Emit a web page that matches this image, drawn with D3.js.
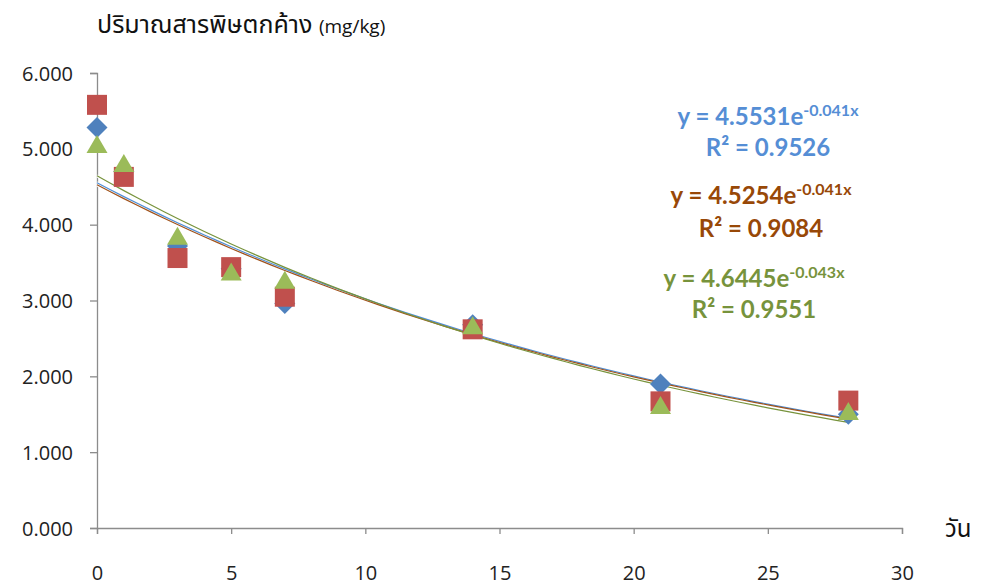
<!DOCTYPE html>
<html><head><meta charset="utf-8">
<script src="https://cdn.jsdelivr.net/npm/d3@7"></script>
<style>
body{margin:0;background:#fff;}
svg{display:block;}
</style></head>
<body>
<svg id="c" width="983" height="586"></svg>
<script>
const days = [0, 1, 3, 5, 7, 14, 21, 28];
const seriesBlue = [5.28, 4.70, 3.72, 3.42, 2.96, 2.68, 1.90, 1.50];
const seriesRed = [5.58, 4.63, 3.56, 3.44, 3.05, 2.62, 1.67, 1.68];
const seriesGreen = [5.05, 4.80, 3.84, 3.37, 3.26, 2.66, 1.61, 1.53];
const fitA = [4.5531, 4.5254, 4.6445];
const fitB = [-0.041, -0.041, -0.043];
const eqLabels = [
  ["y = 4.5531e", "-0.041x", "R² = 0.9526"],
  ["y = 4.5254e", "-0.041x", "R² = 0.9084"],
  ["y = 4.6445e", "-0.043x", "R² = 0.9551"]
];
const xTicks = [0, 5, 10, 15, 20, 25, 30];
const yTicks = [0, 1, 2, 3, 4, 5, 6];

const svg = d3.select("#c");
const x = d3.scaleLinear().domain([0, 30]).range([97, 902]);
const y = d3.scaleLinear().domain([0, 6]).range([528, 73]);
const axisColor = "#8c8c8c";
const font = "'Open Sans', 'Noto Sans', sans-serif";

// axes
const gx = svg.append("g").attr("transform", `translate(0,${y(0)})`)
  .call(d3.axisBottom(x).tickValues(xTicks).tickSize(6).tickFormat(d3.format("d")));
const gy = svg.append("g").attr("transform", `translate(${x(0)},0)`)
  .call(d3.axisLeft(y).tickValues(yTicks).tickSize(7).tickFormat(d3.format(".3f")));
[gx, gy].forEach(g => {
  g.select(".domain").attr("stroke", axisColor).attr("stroke-width", 1.3);
  g.selectAll(".tick line").attr("stroke", axisColor).attr("stroke-width", 1.3);
  g.selectAll(".tick text").attr("fill", "#222").style("font-family", font).style("font-size", "20px");
});
gx.selectAll(".tick text").attr("dy", "0").attr("y", 52);
gy.selectAll(".tick text").attr("x", -24).attr("dy", "0.35em");

// axis titles
const yt = svg.append("text").attr("x", 97).attr("y", 33).attr("fill", "#111")
  .style("font-family", "'Noto Sans Thai', 'Noto Sans', sans-serif").style("font-size", "25px");
yt.append("tspan").text("ปริมาณสารพิษตกค้าง ");
yt.append("tspan").style("font-size", "19px").style("font-family", font).text("(mg/kg)");
svg.append("text").attr("x", 945).attr("y", 537).attr("fill", "#111")
  .style("font-family", "'Noto Sans Thai', 'Noto Sans', sans-serif").style("font-size", "24px").text("วัน");

// trendlines
const lineColors = ["#4f8fd6", "#a0521b", "#77933c"];
const xs = d3.range(0, 28.01, 0.5);
const lineGen = d3.line().x(d => x(d[0])).y(d => y(d[1]));
fitA.forEach((a, i) => {
  const pts = xs.map(t => [t, a * Math.exp(fitB[i] * t)]);
  svg.append("path").attr("d", lineGen(pts)).attr("fill", "none")
    .attr("stroke", "#fff").attr("stroke-width", 3.2).attr("stroke-opacity", 0.9);
});
fitA.forEach((a, i) => {
  const pts = xs.map(t => [t, a * Math.exp(fitB[i] * t)]);
  svg.append("path").attr("d", lineGen(pts)).attr("fill", "none")
    .attr("stroke", lineColors[i]).attr("stroke-width", 1.2);
});

// markers
const diamond = "M0,-10.5L10.5,0L0,10.5L-10.5,0Z";
const square = "M-10,-10L10,-10L10,10L-10,10Z";
const triangle = "M0,-10L10.5,8L-10.5,8Z";
svg.append("g").selectAll("path").data(days.map((d, i) => [d, seriesBlue[i]])).join("path")
  .attr("d", diamond).attr("transform", d => `translate(${x(d[0])},${y(d[1])})`)
  .attr("fill", "#4f81bd");
svg.append("g").selectAll("path").data(days.map((d, i) => [d, seriesRed[i]])).join("path")
  .attr("d", square).attr("transform", d => `translate(${x(d[0])},${y(d[1])})`)
  .attr("fill", "#c0504d");
svg.append("g").selectAll("path").data(days.map((d, i) => [d, seriesGreen[i]])).join("path")
  .attr("d", triangle).attr("transform", d => `translate(${x(d[0])},${y(d[1])})`)
  .attr("fill", "#9bbb59");

// equation labels
const eqColors = ["#558ed5", "#984807", "#77933c"];
const eqPos = [[768, 125, 156], [761, 204, 237], [754, 287, 318]];
eqLabels.forEach((lab, i) => {
  const t1 = svg.append("text").attr("x", eqPos[i][0]).attr("y", eqPos[i][1])
    .attr("text-anchor", "middle").attr("fill", eqColors[i])
    .style("font-family", "Lato, sans-serif").style("font-weight", "bold").style("font-size", "24px");
  t1.append("tspan").text(lab[0]);
  t1.append("tspan").attr("dy", -9).style("font-size", "16px").text(lab[1]);
  svg.append("text").attr("x", eqPos[i][0]).attr("y", eqPos[i][2])
    .attr("text-anchor", "middle").attr("fill", eqColors[i])
    .style("font-family", "Lato, sans-serif").style("font-weight", "bold").style("font-size", "24px")
    .text(lab[2]);
});
</script>
</body></html>
